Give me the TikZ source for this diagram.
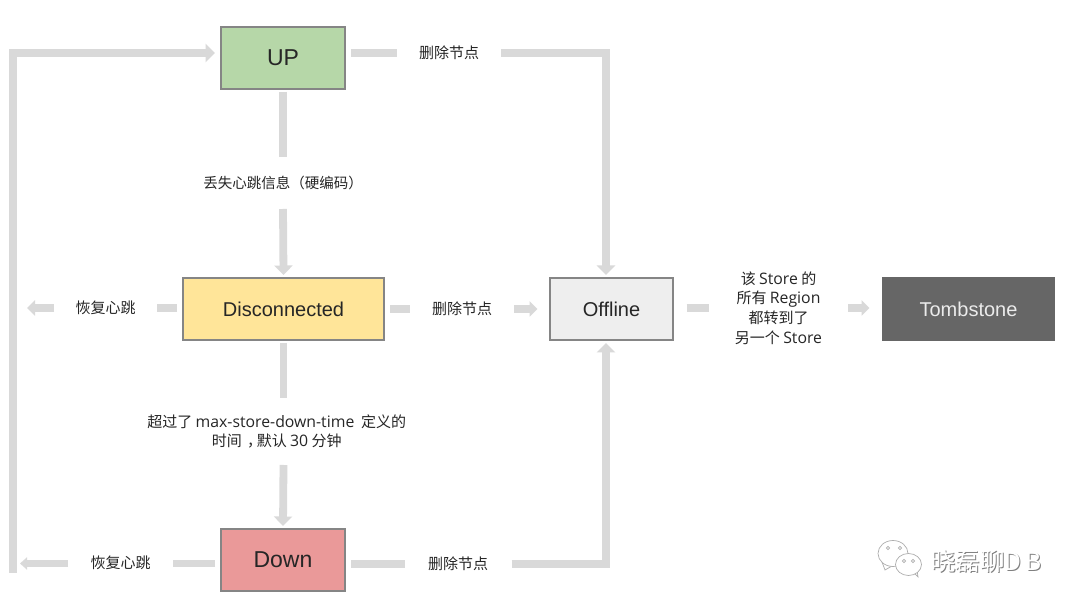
\documentclass[tikz,border=0pt]{standalone}
\usepackage{fontspec}
\setmainfont{Liberation Sans}
\newfontfamily\cjk{Noto Sans CJK SC}
\newfontfamily\lat{Open Sans}
\usetikzlibrary{arrows.meta,calc}
\definecolor{linkgray}{HTML}{D9D9D9}
\definecolor{upfill}{HTML}{B6D7A8}
\definecolor{discfill}{HTML}{FFE599}
\definecolor{offfill}{HTML}{EEEEEE}
\definecolor{tombfill}{HTML}{666666}
\definecolor{downfill}{HTML}{EA9999}
\definecolor{boxline}{HTML}{858585}
\tikzset{
  statebox/.style={draw=#1,line width=1.3pt,minimum height=62pt,outer xsep=6pt,outer ysep=3pt,inner sep=0pt,font=\fontsize{20}{24}\selectfont,text=black!85},
  bigtext/.style={font=\fontsize{23}{24}\selectfont},
  lbl/.style={inner sep=0pt,outer sep=0pt,align=center,text=black!85,font=\fontsize{15}{19.6}\selectfont\cjk},
  link/.style={draw=linkgray,line width=7.8pt},
  linka/.style={link,-{Triangle[width=18pt,length=9.5pt]}},
  linkb/.style={link,-{Triangle[width=15pt,length=8pt]}},
  linkc/.style={draw=linkgray,line width=6.5pt,-{Triangle[width=12pt,length=7pt]}},
  wmline/.style={draw=black!32,line width=.7pt}
}
\newcommand{\la}[1]{{\fontsize{15.8}{19.6}\selectfont\lat #1}}
\begin{document}
\begin{tikzpicture}[x=1pt,y=-1pt]
\path[use as bounding box,fill=white] (0,0) rectangle (1080,609);
% state boxes
\node[statebox=boxline,fill=upfill,minimum width=124pt,bigtext] (up) at (283,58) {UP};
\node[statebox=boxline,fill=discfill,minimum width=201pt] (disc) at (283.5,309) {Disconnected};
\node[statebox=boxline,fill=offfill,minimum width=123pt] (off) at (611.5,309) {Offline};
\node[statebox=tombfill,fill=tombfill,minimum width=171pt,text=white!92!black] (tomb) at (968.5,309) {Tombstone};
\node[statebox=boxline,fill=downfill,minimum width=124pt,bigtext] (down) at (283,560) {Down};
% labels
\node[lbl,minimum width=104pt] (l1) at (449,53) {删除节点};
\node[lbl,minimum height=52pt,font=\fontsize{14.5}{19.6}\selectfont\cjk] (l2) at (283,183) {丢失心跳信息（硬编码）};
\node[lbl,minimum width=104pt] (l3) at (462,309) {删除节点};
\node[lbl,minimum width=103pt] (l4) at (105.5,308) {恢复心跳};
\node[lbl,minimum height=67pt] (l5) at (276.7,431.5) {超过了 \la{max-store-down-time}\ \ 定义的\\时间\hspace{.35em}，\hspace{-.35em}默认 \la{30} 分钟};
\node[lbl,minimum width=139pt] (l6) at (778.5,308) {该 \la{Store} 的\\所有 \la{Region}\\都转到了\\另一个 \la{Store}};
\node[lbl,minimum width=105pt] (l7) at (120.5,563.5) {\raisebox{3pt}{恢复心跳}};
\node[lbl,minimum width=107pt] (l8) at (458,564) {删除节点};
\coordinate (trunkEnd) at (13,573);
\coordinate (discEnd) at (27,308);
\coordinate (offIn) at (606,309);
% connectors
\draw[link] (up.east |- l1.west) -- (l1.west);
\draw[linka] (l1.east) -| (offIn |- off.north);
\draw[link] (up.south) -- (l2.north);
\draw[linka] (l2.south) -- (disc.north);
\draw[link] (disc.east |- l3.west) -- (l3.west);
\draw[linkb,shorten >=6.5pt] (l3.east) -- (off.west |- l3.east);
\draw[link] (disc.west |- l4.east) -- (l4.east);
\draw[linkb] (l4.west) -- (discEnd);
\draw[link] (disc.south) -- (disc.south |- l5.north);
\draw[linka] (disc.south |- l5.south) -- (down.north);
\draw[link,shorten <=7.5pt] (off.east |- l6.west) -- (l6.west);
\draw[linkb,shorten >=7.5pt] (l6.east) -- (tomb.west |- l6.east);
\draw[link,line width=6.5pt] (down.west |- l7.east) -- (l7.east);
\draw[linkc,shorten >=7pt] (l7.west) -- (trunkEnd |- l7.west);
\draw[linka] (trunkEnd) |- (up.west |- l1.west);
\draw[link] (down.east |- l8.west) -- (l8.west);
\draw[linka] (l8.east) -| (offIn |- off.south);
% watermark
\draw[wmline,fill=white] (882,562) -- (885,570) -- (892,566);
\draw[wmline,fill=white] (893,553.5) ellipse (15pt and 13pt);
\draw[wmline,fill=white] (913,572) -- (918,577) -- (917,570);
\draw[wmline,fill=white] (908.5,564.5) ellipse (13pt and 11pt);
\foreach \ex/\ey in {888/548,900/548,904/561,913/561} \draw[wmline] (\ex,\ey) circle (1.6pt);
\node[inner sep=0pt,text=black!50,font=\fontsize{24.5}{24}\selectfont\cjk] (wm0) at (987.3,561.8) {晓磊聊D\,B};
\node[inner sep=0pt,text=white,font=\fontsize{24.5}{24}\selectfont\cjk] (wm) at (986.5,561) {晓磊聊D\,B};
\end{tikzpicture}
\end{document}
